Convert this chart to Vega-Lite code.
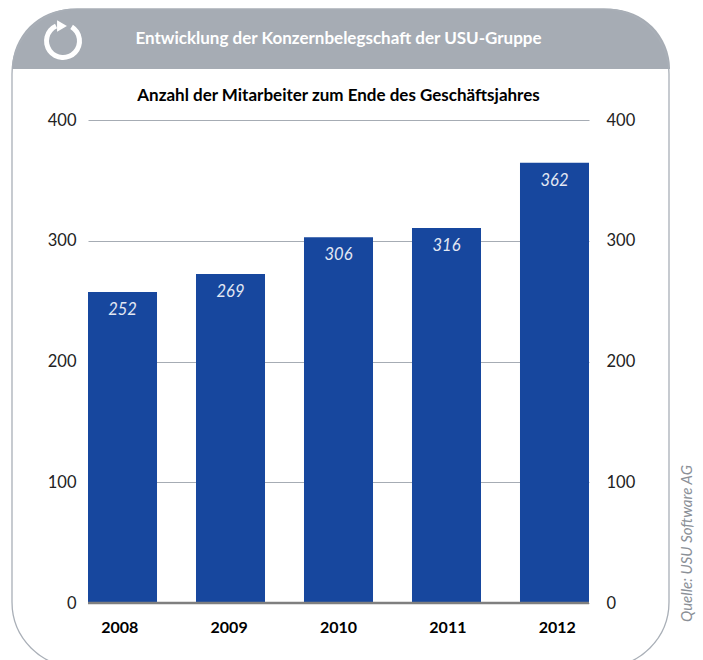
{
  "$schema": "https://vega.github.io/schema/vega-lite/v6.json",
  "autosize": {"type": "none"},
  "padding": {"left": 88, "top": 120, "right": 114, "bottom": 57},
  "width": 501,
  "height": 483,
  "background": "white",
  "title": {
    "text": "Entwicklung der Konzernbelegschaft der USU-Gruppe",
    "subtitle": "Anzahl der Mitarbeiter zum Ende des Geschäftsjahres",
    "anchor": "middle",
    "frame": "group",
    "offset": -97,
    "color": "#ffffff",
    "font": "Lato",
    "fontSize": 17,
    "fontWeight": "bold",
    "subtitleColor": "#000000",
    "subtitleFont": "Lato",
    "subtitleFontSize": 17,
    "subtitleFontWeight": "bold",
    "subtitlePadding": 40
  },
  "data": {"values": [
    {"year": "2008", "height": 257.5, "label": 252},
    {"year": "2009", "height": 272.5, "label": 269},
    {"year": "2010", "height": 303, "label": 306},
    {"year": "2011", "height": 310.5, "label": 316},
    {"year": "2012", "height": 364.5, "label": 362}
  ]},
  "resolve": {"axis": {"y": "independent"}},
  "layer": [
    {
      "data": {"values": [{"part": "header"}]},
      "mark": {
        "type": "point", "filled": true, "fill": "#a6acb4", "opacity": 1, "size": 4,
        "shape": "M-329,30 A60,60 0 0 1 -269,-30 L269,-30 A60,60 0 0 1 329,30 Z"
      },
      "encoding": {"x": {"value": 253}, "y": {"value": -81}}
    },
    {
      "data": {"values": [{"part": "frame"}]},
      "mark": {"type": "rect", "fill": null, "stroke": "#a9afb7", "strokeWidth": 1.3, "cornerRadius": 65},
      "encoding": {
        "x": {"value": -76}, "x2": {"value": 581},
        "y": {"value": -111}, "y2": {"value": 547}
      }
    },
    {
      "data": {"values": [{"part": "icon"}]},
      "mark": {"type": "arc", "fill": "#ffffff", "radius": 19, "radius2": 14, "theta": 0.55, "theta2": 5.85},
      "encoding": {"x": {"value": -25}, "y": {"value": -79}}
    },
    {
      "data": {"values": [{"part": "icon"}]},
      "mark": {"type": "point", "shape": "triangle-right", "filled": true, "fill": "#ffffff", "opacity": 1, "size": 130},
      "encoding": {"x": {"value": -26}, "y": {"value": -94}}
    },
    {
      "mark": {"type": "bar", "color": "#17479e"},
      "encoding": {
        "x": {
          "field": "year", "type": "ordinal",
          "scale": {"paddingInner": 0.361, "paddingOuter": 0},
          "axis": {
            "title": null, "domain": false, "ticks": false, "labelAngle": 0,
            "labelFont": "Lato", "labelFontSize": 16, "labelFontWeight": "bold",
            "labelColor": "#000000", "labelPadding": 16,
            "labelOffset": {"expr": "(toNumber(datum.value)-2010)*1.4"}
          }
        },
        "y": {
          "field": "height", "type": "quantitative",
          "scale": {"domain": [0, 400]},
          "axis": {
            "title": null, "orient": "left", "values": [0, 100, 200, 300, 400],
            "domain": false, "ticks": false, "grid": true, "gridColor": "#a6acb4", "gridWidth": 1,
            "labelFont": "Lato", "labelFontSize": 16.5, "labelColor": "#222222", "labelPadding": 12
          }
        }
      }
    },
    {
      "data": {"values": [{"base": 0}]},
      "mark": {"type": "rule", "color": "#7f7f7f", "strokeWidth": 2.5},
      "encoding": {"y": {"field": "base", "type": "quantitative", "axis": null}}
    },
    {
      "mark": {"type": "text", "color": "#e3e8f3", "font": "Lato", "fontStyle": "italic", "fontSize": 16.5, "dy": 18, "baseline": "middle"},
      "encoding": {
        "x": {"field": "year", "type": "ordinal"},
        "y": {
          "field": "height", "type": "quantitative",
          "axis": {
            "title": "Quelle: USU Software AG", "orient": "right", "values": [0, 100, 200, 300, 400],
            "domain": false, "ticks": false, "grid": false,
            "labelFont": "Lato", "labelFontSize": 16.5, "labelColor": "#222222", "labelPadding": 17,
            "titleFont": "Lato", "titleFontSize": 15, "titleFontStyle": "italic", "titleFontWeight": "normal",
            "titleColor": "#8b9097", "titleAngle": 270, "titleX": 97, "titleY": 423, "titleAlign": "center", "titleBaseline": "middle"
          }
        },
        "text": {"field": "label", "type": "quantitative"}
      }
    }
  ],
  "config": {"view": {"stroke": null}}
}
